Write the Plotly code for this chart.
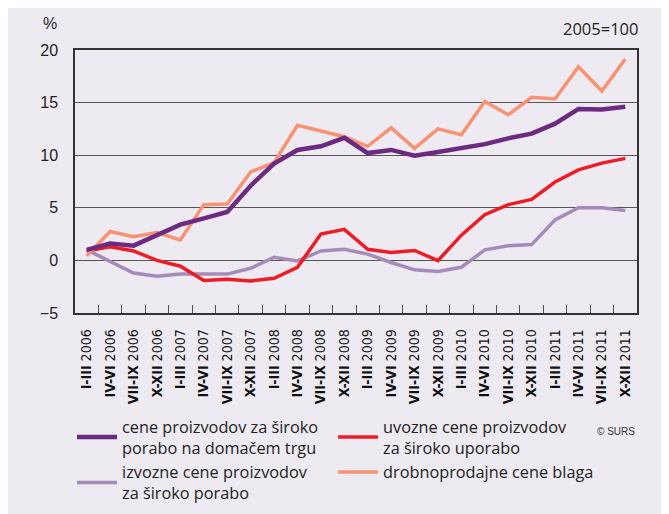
import plotly.graph_objects as go

periods = [
    "I-III 2006", "IV-VI 2006", "VII-IX 2006", "X-XII 2006",
    "I-III 2007", "IV-VI 2007", "VII-IX 2007", "X-XII 2007",
    "I-III 2008", "IV-VI 2008", "VII-IX 2008", "X-XII 2008",
    "I-III 2009", "IV-VI 2009", "VII-IX 2009", "X-XII 2009",
    "I-III 2010", "IV-VI 2010", "VII-IX 2010", "X-XII 2010",
    "I-III 2011", "IV-VI 2011", "VII-IX 2011", "X-XII 2011",
]

# cene proizvodov za široko porabo na domačem trgu
domestic = [1.0, 1.6, 1.4, 2.4, 3.4, 4.0, 4.6, 7.1, 9.2, 10.5, 10.85, 11.65,
            10.2, 10.5, 9.95, 10.3, 10.7, 11.05, 11.6, 12.05, 13.0, 14.4, 14.35, 14.6]
# uvozne cene proizvodov za široko uporabo
imports = [0.9, 1.3, 0.9, 0.0, -0.55, -1.9, -1.8, -1.95, -1.7, -0.65, 2.5, 2.95,
           1.05, 0.75, 0.95, -0.03, 2.4, 4.35, 5.3, 5.8, 7.45, 8.6, 9.25, 9.7]
# izvozne cene proizvodov za široko porabo
exports = [1.0, -0.1, -1.2, -1.5, -1.3, -1.3, -1.3, -0.75, 0.3, -0.05, 0.9, 1.05,
           0.6, -0.2, -0.9, -1.05, -0.65, 1.0, 1.4, 1.5, 3.85, 5.0, 5.0, 4.75]
# drobnoprodajne cene blaga
retail = [0.45, 2.75, 2.25, 2.65, 1.95, 5.3, 5.35, 8.4, 9.3, 12.85, 12.3, 11.75,
          10.85, 12.6, 10.65, 12.5, 11.95, 15.1, 13.85, 15.5, 15.35, 18.4, 16.1, 19.15]

names = [
    "cene proizvodov za široko<br>porabo na domačem trgu",
    "uvozne cene proizvodov<br>za široko uporabo",
    "izvozne cene proizvodov<br>za široko porabo",
    "drobnoprodajne cene blaga",
]
colors = ["#6c2a80", "#ee1c25", "#a58bba", "#f79273"]
widths = [4.5, 3.5, 3.5, 3.5]
series = [domestic, imports, exports, retail]

tick_text = []
for p in periods:
    roman, year = p.split(" ")
    tick_text.append("<b>" + roman + "</b> " + year)

bg = "#eeeaf1"

fig = go.Figure()

# draw order: lighter lines first, the key ones on top
for idx in [2, 1, 3, 0]:
    fig.add_trace(go.Scatter(
        x=periods, y=series[idx], mode="lines", name=names[idx],
        line=dict(color=colors[idx], width=widths[idx]),
        legendrank=idx + 1,
    ))

fig.update_layout(
    width=669, height=514,
    margin=dict(l=67, r=40, t=42, b=209),
    paper_bgcolor=bg, plot_bgcolor=bg,
    font=dict(family="Liberation Sans, Arial, sans-serif", size=16, color="#222222"),
    showlegend=True,
    legend=dict(
        orientation="h", xref="container", yref="container",
        x=0.0957, y=0.219, xanchor="left", yanchor="top",
        entrywidth=206, entrywidthmode="pixels", valign="middle",
        itemwidth=40,
        bgcolor="rgba(0,0,0,0)", traceorder="normal",
        font=dict(family="Open Sans, sans-serif", size=16.3, color="#222222"),
    ),
    xaxis=dict(
        type="category", tickmode="array", tickvals=periods, ticktext=tick_text,
        tickangle=-90, ticks="inside", tickson="boundaries", ticklen=8,
        tickcolor="#555555", tickwidth=1, ticklabelstandoff=9,
        showline=True, linecolor="#333333", linewidth=1.5, mirror=True,
        showgrid=False, range=[-0.5, 23.5], automargin=False,
        tickfont=dict(family="Liberation Sans Narrow, Arial Narrow, DejaVu Sans Condensed, sans-serif",
                      size=14, color="#111111"),
    ),
    yaxis=dict(
        range=[-5, 20], tickvals=[-5, 0, 5, 10, 15, 20], ticks="",
        showgrid=True, gridcolor="#555555", gridwidth=1,
        showline=True, linecolor="#333333", linewidth=1.5, mirror=True,
        zeroline=False, ticklabelstandoff=12, automargin=False,
        tickfont=dict(size=16, color="#222222"),
    ),
    annotations=[
        dict(text="%", xref="paper", yref="paper", x=-0.045, y=1.1,
             showarrow=False, xanchor="center", yanchor="middle",
             font=dict(size=16)),
        dict(text="2005=100", xref="paper", yref="paper", x=1.005, y=1.08,
             showarrow=False, xanchor="right", yanchor="middle",
             font=dict(family="Open Sans, sans-serif", size=16.5)),
        dict(text="© SURS", xref="paper", yref="paper", x=1.0, y=-0.45,
             showarrow=False, xanchor="right", yanchor="middle",
             font=dict(size=10, color="#333333")),
    ],
)

fig.write_html("out.html")
